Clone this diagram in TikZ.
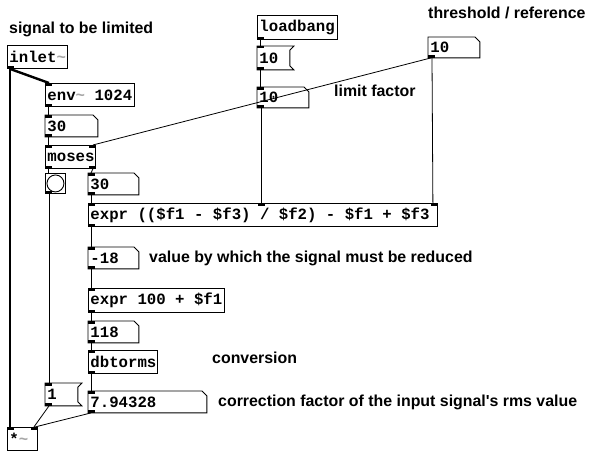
\documentclass[tikz,border=0pt]{standalone}
\usepackage{fontspec}
\newfontfamily\pdfont{Liberation Mono}[UprightFont=* Bold]
\newfontfamily\cmtfont{Liberation Sans}[UprightFont=* Bold]
\newcommand\tld{\textcolor{black!35}{\textasciitilde}}
\newcommand\ws{\hspace*{0.6em}}
\newcommand\pdsel{\pdfont\fontsize{15.7}{15.7}\selectfont}
\begin{document}
\begin{tikzpicture}[x=1pt,y=-1pt,
  box/.style={anchor=north west, inner xsep=2pt, inner ysep=0pt, align=left,
              font=\pdsel, line width=0.9pt},
  obj/.style={box, draw},
  num/.style={box},
  msg/.style={box},
  cmt/.style={anchor=base west, inner sep=0pt, font=\cmtfont\fontsize{15.9}{16}\selectfont},
  ctl/.style={line width=0.8pt},
  sig/.style={line width=2.4pt},
  outline/.style={line width=0.9pt}
]
\useasboundingbox (0,0) rectangle (589,452);
\fill[white] (0,0) rectangle (589,452);

% objects
\node[obj, text width=56pt, minimum height=23pt] (inlet) at (7,45) {inlet\tld};
\node[obj, text width=85pt, minimum height=23pt] (env) at (45,83) {env\tld\ws1024};
\node[num, text width=48pt, minimum height=21pt] (n30a) at (45,115) {30};
\node[obj, text width=46pt, minimum height=23pt] (moses) at (45,145) {moses};
\node[obj, inner sep=0pt, minimum width=20pt, minimum height=20pt] (bng) at (45,173) {};
\node[num, text width=46pt, minimum height=21pt] (n30b) at (88,173) {30};
\node[obj, text width=76pt, minimum height=24pt] (load) at (257,15) {loadbang};
\node[msg, text width=28pt, minimum height=23pt] (msg10) at (257,46) {10};
\node[num, text width=47pt, minimum height=20pt] (nlim) at (257,87) {10};
\node[num, text width=47pt, minimum height=20pt] (nthr) at (428,37) {10};
\node[obj, text width=345pt, minimum height=23pt] (expr1) at (88,203) {expr\ws((\$f1\ws-\ws\$f3)\ws/\ws\$f2)\ws-\ws\$f1\ws+\ws\$f3};
\node[num, text width=46pt, minimum height=21pt] (n18) at (88,247) {-18};
\node[obj, text width=132pt, minimum height=24pt] (expr2) at (88,288) {expr\ws100\ws+\ws\$f1};
\node[num, text width=46pt, minimum height=21pt] (n118) at (88,321) {118};
\node[obj, text width=65pt, minimum height=23pt] (dbt) at (88,350) {dbtorms};
\node[msg, text width=28pt, minimum height=22pt] (msg1) at (45,383) {1};
\node[num, text width=114pt, minimum height=21pt] (n794) at (88,391) {7.94328};
\node[obj, text width=26pt, minimum height=23pt] (mul) at (7,427) {*\tld};

% number box outlines
\foreach \n in {n30a,n30b,nlim,nthr,n18,n118,n794}{
  \draw[outline] (\n.north west) -- ([xshift=-5pt]\n.north east) -- ([yshift=-5pt]\n.north east)
    -- (\n.south east) -- (\n.south west) -- cycle;
}
% message box outlines
\foreach \n in {msg10,msg1}{
  \draw[outline] (\n.north west) -- ([xshift=4pt]\n.north east) -- ([yshift=-4pt]\n.north east)
    -- ([yshift=4pt]\n.south east) -- ([xshift=4pt]\n.south east) -- (\n.south west) -- cycle;
}
% bang
\draw[line width=0.9pt] (bng.center) circle (8.5pt);

% comments
\node[cmt] (c1) at (9,34) {signal to be limited};
\node[cmt] (c2) at (428,19) {threshold / reference};
\node[cmt] (c3) at (334,96) {limit factor};
\node[cmt] (c4) at (149,262) {value by which the signal must be reduced};
\node[cmt] (c5) at (212,363) {conversion};
\node[cmt] (c6) at (218,406) {correction factor of the input signal's rms value};

% signal connections
\draw[sig] ([xshift=3pt]inlet.south west) -- ([xshift=4pt]env.north west);
\draw[sig] ([xshift=3pt]inlet.south west) -- ([xshift=3pt]mul.north west);

% control connections
\draw[ctl] ([xshift=3pt]env.south west) -- ([xshift=3pt]n30a.north west);
\draw[ctl] ([xshift=3pt]n30a.south west) -- ([xshift=3pt]moses.north west);
\draw[ctl] ([xshift=3pt]nthr.south west) -- ([xshift=-3pt]moses.north east);
\draw[ctl] ([xshift=4pt]nthr.south west) -- ([xshift=-5pt]expr1.north east);
\draw[ctl] ([xshift=3pt]load.south west) -- ([xshift=3pt]msg10.north west);
\draw[ctl] ([xshift=3pt]msg10.south west) -- ([xshift=3pt]nlim.north west);
\draw[ctl] ([xshift=4pt]nlim.south west) -- ([xshift=173pt]expr1.north west);
\draw[ctl] ([xshift=3pt]moses.south west) -- ([xshift=3pt]bng.north west);
\draw[ctl] ([xshift=-3pt]moses.south east) -- ([xshift=3pt]n30b.north west);
\draw[ctl] ([xshift=4pt]bng.south west) -- ([xshift=4pt]msg1.north west);
\draw[ctl] ([xshift=3pt]n30b.south west) -- ([xshift=3pt]expr1.north west);
\draw[ctl] ([xshift=3pt]expr1.south west) -- ([xshift=3pt]n18.north west);
\draw[ctl] ([xshift=3pt]n18.south west) -- ([xshift=3pt]expr2.north west);
\draw[ctl] ([xshift=3pt]expr2.south west) -- ([xshift=3pt]n118.north west);
\draw[ctl] ([xshift=3pt]n118.south west) -- ([xshift=3pt]dbt.north west);
\draw[ctl] ([xshift=3pt]dbt.south west) -- ([xshift=3pt]n794.north west);
\draw[ctl] ([xshift=4pt]msg1.south west) -- ([xshift=-4pt]mul.north east);
\draw[ctl] ([xshift=3pt]n794.south west) -- ([xshift=-3pt]mul.north east);

% iolets
\foreach \n in {inlet,env,n30a,moses,bng,n30b,load,msg10,nlim,nthr,expr1,n18,expr2,n118,dbt,msg1,n794}{
  \fill (\n.south west) rectangle ++(7,-2.5);
}
\foreach \n in {env,n30a,moses,n30b,msg10,nlim,expr1,n18,expr2,n118,dbt,msg1,n794,mul}{
  \fill (\n.north west) rectangle ++(7,2.5);
}
\fill ([xshift=-7pt]moses.south east) rectangle ++(7,-2.5);
\fill ([xshift=-7pt]moses.north east) rectangle ++(7,2.5);
\fill ([xshift=-7pt]expr1.north east) rectangle ++(7,2.5);
\fill ([xshift=170pt]expr1.north west) rectangle ++(7,2.5);
\fill ([xshift=-7pt]mul.north east) rectangle ++(7,2.5);
\end{tikzpicture}
\end{document}
